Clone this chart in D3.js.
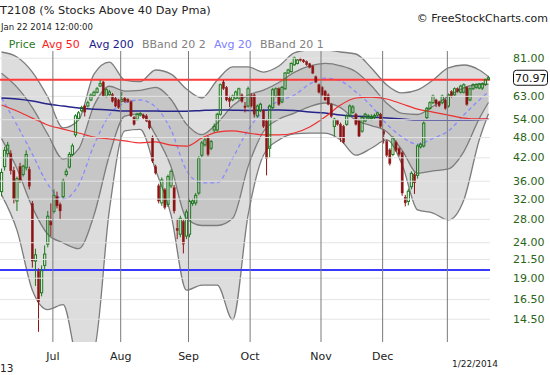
<!DOCTYPE html>
<html>
<head>
<meta charset="utf-8">
<title>T2108 (% Stocks Above 40 Day Pma)</title>
<script src="https://cdn.jsdelivr.net/npm/d3@7"></script>
<style>
    body { margin: 0; background: #fff; }
    #chart text { font-family: "DejaVu Sans", Verdana, sans-serif; }
</style>
</head>
<body>
<svg id="chart" width="550" height="375"></svg>
<script>
// daily candles, 6 Jun 2013 .. 22 Jan 2014 (one entry per trading day)
var opens = [33.5,39.5,43,43,38.5,31.5,39.5,37.5,39.2,38.8,
    31,21.2,19.8,17.2,20.6,23.7,27.5,29.4,32.4,30.8,
    32.4,37.5,39.4,42.8,48.7,54.3,57.1,58.9,58.9,61.3,
    63.1,64.5,67.2,69,62.9,63.5,63.5,62,61.3,60.8,
    62,61.5,60.6,54.6,54,55.5,55.5,55.2,53.4,48,
    39.5,34.8,31.1,33.9,30.8,34.8,34.4,26.3,25.3,27.5,
    25,25.3,31,31.1,33.2,42.6,45.6,47.7,44.6,50.3,
    50.3,55.8,69,66.6,62,61.3,62,62,63.4,58.9,
    58.9,63.4,63.4,55.2,57.1,57.1,53.4,44.6,58.3,62.9,
    66,60.5,66,73.2,73.9,77.3,78,80.5,79.8,79,
    77.8,76.6,71.4,67.8,66.6,65,63.4,59.5,51.5,53.5,
    52.2,51.5,52.2,55.2,56.5,55.8,53.4,49.9,53.4,54.4,
    54.2,54.5,55.5,55.8,49.9,46.6,44.1,42.8,46.4,44.5,
    43.3,32.3,31.4,34.6,37.5,37.3,45,45.3,54.6,58,
    60.2,61.3,60.5,60.2,61.3,58.9,64.8,63.4,66,64.5,
    64.5,66.6,61.3,66,66.6,66.3,66.3,67.8,70.3];
var highs = [39,45,46.5,44,39.5,37,40.5,40,44,39.5,
    31.5,23,20.2,20.6,23.5,29.5,31,34,33.5,31.2,
    36.5,39,43.5,46,55.8,57,59,59.5,61,64,
    65.2,66.8,69.9,69.5,66.3,65.5,64.2,62.5,61.8,64.6,
    62.5,62,61.2,55.2,56.3,56.6,56,55.8,54,48.5,
    40,35.3,36.8,34.3,37.5,38.8,35,28,28.6,28,
    29.8,32,32,33.2,42.3,46.8,47.7,48.3,47.1,52.5,
    56.3,68.3,69.9,67.2,63,63.5,65.2,66.5,64,60.5,
    67,64,64,59.5,60.2,57.6,54,59.5,66.3,66.6,
    66.6,67.2,73.7,75.3,78.5,81.6,80.3,81,80.3,79.5,
    78.3,77.2,72,68.3,67.2,65.5,64,60,54.5,54,
    52.8,52,55.8,59.5,59.3,56.3,54,55,56.3,55.8,
    55.8,56,56.8,56.3,50.5,47.2,44.6,48.3,47,45,
    43.8,32.8,34.2,38.3,38,45.8,46.3,53.2,58.6,60.8,
    63.5,61.8,61,63.5,61.8,64,65.3,66.6,66.6,67.8,
    68.4,67.2,66.6,68.4,68.4,68.6,68.8,70.5,71.8];
var lows = [32.5,38.5,42,37.5,31,29.5,35.5,37,38.5,34,
    20.3,18,13.3,16.8,20,23.2,25,29,30,27.8,
    32,37,39,42.3,48,53.8,56.6,55,58.3,60.8,
    62.5,64,66.8,62.5,62.3,63,60.3,58.5,57.8,60.3,
    60.2,60.2,54.8,51.8,53.5,55,54,53,50.5,40.5,
    37.5,31,30.5,29.8,30.3,34.3,29,24.5,24.8,22.3,
    24.5,24.8,30.5,30.6,32.8,42,45.1,42.3,44,49.5,
    49.8,55.3,65.5,60.8,58.5,60.8,61.5,61.5,60.2,56.5,
    58.3,58.3,54.6,54.6,56.6,51,37.3,42,57.8,62.3,
    59,60,65.5,72.7,73.4,76.8,77.5,79,78.3,76.8,
    75.5,72.7,68.5,64,62.8,61,59.2,54.5,48.3,51.8,
    46.5,46,51.7,54.7,56,51.8,47.8,49.4,53,53.8,
    53.6,54,55,51,46,42,39.8,42.3,43.5,42.3,
    32.6,30.4,30.6,34,33,36.5,44.5,44.8,54,57.4,
    59.6,58.5,58.5,59.6,57.5,58.3,62.3,62.9,64.3,64,
    64,59,60.8,65.5,66,65.8,65.5,67.3,69.8];
var closes = [38,44,45.5,38.5,32,36.5,36.2,39.6,42.8,34.7,
    21.2,22.1,16.2,19.9,22.2,28.5,26.9,32.7,30.5,29.5,
    35.9,38.3,42.8,45.3,55.2,56.3,58.3,56.6,60.2,63.3,
    64.5,66,68.3,62.9,65.6,64.6,60.8,58.9,58.3,61.5,
    60.7,60.7,55.2,52.2,55.8,56,54.5,53.4,51,41,
    37.9,31.5,36.2,30.2,37,38.3,29.5,25.9,28.1,23.7,
    29.3,31.4,31.5,32.7,41.7,46.2,47.1,42.8,46.6,51.5,
    55.8,67.8,66,61.3,60.7,62.9,64.6,66,60.7,58.3,
    66,58.9,55.8,58.9,59.6,51.5,41.7,58.9,65.6,66,
    59.6,66.6,73.2,74.7,78,81,79.8,79.5,78.8,77.3,
    76,73.2,69,64.5,63.3,61.3,59.6,55,54,52.2,
    47.7,46.4,55.2,58.9,58.5,52.2,48.3,54.6,55.8,55.2,
    55,55.3,56.3,51.5,48.9,42.6,40.3,47.7,44,42.8,
    33.2,31.1,33.6,37.8,35.5,45.3,45.8,52.6,58,60.2,
    62.9,59.8,59,62.9,58,63.4,62.9,66,64.8,67.2,
    67.8,59.6,66,67.8,67.8,68.1,68.3,70,70.97];

// indicator readings, taken every 5th trading day
var bandIdx = [0,5,10,15,20,25,30,35,40,45,50,55,60,65,70,75,80,85,90,95,
    100,105,110,115,120,125,130,135,140,145,150,155,158];
var bbUpper2 = [84.1,81.4,73.7,62.5,51.0,53.7,72.7,78.7,69.9,69.2,74.7,72.7,65.9,62.1,69.9,76.2,76.2,73.7,76.7,83.6,
    85.2,85.2,84.1,83.0,75.7,67.7,64.2,65.5,69.9,75.7,77.2,74.7,71.5];
var bbUpper1 = [73.1,66.7,58.3,48.9,41.5,44.4,59.1,67.1,65.0,65.3,66.6,61.5,52.3,48.8,52.7,59.0,63.3,65.4,68.8,73.5,
    76.7,78.0,76.8,73.8,67.3,60.0,56.1,55.7,58.8,62.9,66.4,68.0,68.0];
var avg20 = [62.1,52.0,42.9,35.2,31.9,35.0,45.5,55.5,60.1,61.3,58.5,50.3,38.6,35.5,35.5,41.8,50.3,57.0,60.9,63.3,
    68.1,70.8,69.5,64.6,58.9,52.3,48.0,45.8,47.6,50.0,55.5,61.3,64.6];
var bbLower1 = [47.5,39.0,30.2,25.3,23.9,23.0,28.7,42.6,55.1,55.9,48.6,39.5,28.1,26.8,26.8,28.1,39.5,49.8,54.0,56.2,
    58.7,60.1,58.3,53.6,51.8,49.7,44.0,37.8,38.4,38.9,43.6,54.2,60.3];
var bbLower2 = [32.8,26.0,17.5,15.4,15.9,11.0,11.8,29.7,50.0,50.5,38.6,28.7,17.5,18.1,18.1,14.4,28.7,42.6,47.1,49.0,
    49.3,49.3,47.1,42.6,44.6,47.1,40.0,29.7,29.1,27.8,31.7,47.1,56.0];
var avg50 = [59.3,57.0,54.4,52.0,50.6,49.3,48.0,47.4,46.8,46.2,46.5,45.5,45.2,47.7,49.6,50.0,49.3,48.7,48.7,49.3,
    51.3,54.8,59.3,62.1,62.5,61.7,59.7,57.7,56.6,55.5,54.4,54.1,54.1];
var avg200 = [62.1,61.7,60.9,59.7,58.9,58.1,57.7,57.4,57.0,57.0,57.0,56.9,56.9,57.2,57.4,57.3,57.2,57.3,57.4,57.2,
    56.6,56.3,55.5,55.1,54.8,54.4,54.1,53.7,53.7,53.7,53.7,53.8,54.0];

var levels = [70, 20];
var monthIdx = [17, 39, 61, 81, 104, 124, 145];
var monthNames = ["Jul", "Aug", "Sep", "Oct", "Nov", "Dec", ""];
var yTicks = [81, 63, 54, 48, 42, 36, 32, 28, 24, 21.5, 19, 16.5, 14.5];
var lastLabel = "70.97";

window.addEventListener("load", drawChart);

function drawChart() {
    var W = 490, TOP = 51, BOTTOM = 342;
    var n = closes.length;
    var svg = d3.select("#chart");

    var x = d3.scaleLinear().domain([0, n]).range([0, W]);
    var y = d3.scaleLog().domain([14.5, 81]).range([318.7, 57.7]);
    var cx = function (i) { return x(i + 0.5); };

    svg.append("clipPath").attr("id", "plotClip")
        .append("rect").attr("x", 0).attr("y", TOP).attr("width", W).attr("height", BOTTOM - TOP);

    var plot = svg.append("g").attr("clip-path", "url(#plotClip)");

    var rows = bandIdx.map(function (d, k) {
        return { i: d, u2: bbUpper2[k], u1: bbUpper1[k], m: avg20[k], l1: bbLower1[k], l2: bbLower2[k],
                 a50: avg50[k], a200: avg200[k] };
    });
    var curve = d3.curveMonotoneX;

    //bollinger fills
    plot.append("path").datum(rows)
        .attr("d", d3.area().x(d => cx(d.i)).y0(d => y(d.l2)).y1(d => y(d.u2)).curve(curve))
        .attr("fill", "#dddddd");
    plot.append("path").datum(rows)
        .attr("d", d3.area().x(d => cx(d.i)).y0(d => y(d.l1)).y1(d => y(d.u1)).curve(curve))
        .attr("fill", "#c6c6c6");

    //grid + right axis
    var yAxis = d3.axisRight(y).tickValues(yTicks).tickFormat(d3.format(".2f"))
        .tickSizeInner(-W).tickSizeOuter(0).tickPadding(23);
    var gy = svg.append("g").attr("transform", "translate(" + W + ",0)").call(yAxis);
    gy.select(".domain").remove();
    gy.selectAll("line").attr("stroke", "#e4e4e4");
    gy.selectAll("text").attr("fill", "#2a6418").style("font-size", "11px");

    //band outlines
    ["u2", "u1", "l1", "l2"].forEach(function (k) {
        plot.append("path").datum(rows)
            .attr("d", d3.line().x(d => cx(d.i)).y(d => y(d[k])).curve(curve))
            .attr("fill", "none").attr("stroke", "#7c7c7c").attr("stroke-width", 1.3);
    });

    //month separators
    var xAxis = d3.axisBottom(x).tickValues(monthIdx).tickFormat((d, k) => monthNames[k])
        .tickSizeInner(-(BOTTOM - TOP)).tickSizeOuter(0).tickPadding(10);
    var gx = svg.append("g").attr("transform", "translate(0," + BOTTOM + ")").call(xAxis);
    gx.select(".domain").remove();
    gx.selectAll("line").attr("stroke", "#7a7a7a");
    gx.selectAll("text").attr("fill", "#222").style("font-size", "11px");

    //moving averages
    plot.append("path").datum(rows)
        .attr("d", d3.line().x(d => cx(d.i)).y(d => y(d.m)).curve(curve))
        .attr("fill", "none").attr("stroke", "#8a8aff").attr("stroke-width", 1.3)
        .attr("stroke-dasharray", "4,3");
    plot.append("path").datum(rows)
        .attr("d", d3.line().x(d => cx(d.i)).y(d => y(d.a200)).curve(curve))
        .attr("fill", "none").attr("stroke", "#24248a").attr("stroke-width", 1.5);
    plot.append("path").datum(rows)
        .attr("d", d3.line().x(d => cx(d.i)).y(d => y(d.a50)).curve(curve))
        .attr("fill", "none").attr("stroke", "#ee3030").attr("stroke-width", 1.2);

    //70 / 20 levels
    plot.selectAll(".level").data(levels).enter().append("line")
        .attr("x1", 0).attr("x2", W)
        .attr("y1", d => y(d)).attr("y2", d => y(d))
        .attr("stroke", (d, k) => k == 0 ? "#ff3a3a" : "#3a3aff")
        .attr("stroke-width", 2);

    //candles
    var idx = d3.range(n);
    var isUp = i => closes[i] >= opens[i];
    var green = "#1d7a1d", red = "#8c1414";

    plot.selectAll(".wickHi").data(idx).enter().append("line")
        .attr("x1", cx).attr("x2", cx)
        .attr("y1", i => y(highs[i]))
        .attr("y2", i => y(Math.max(opens[i], closes[i])))
        .attr("stroke", i => isUp(i) ? green : red).attr("stroke-width", 1);
    plot.selectAll(".wickLo").data(idx).enter().append("line")
        .attr("x1", cx).attr("x2", cx)
        .attr("y1", i => y(Math.min(opens[i], closes[i])))
        .attr("y2", i => y(lows[i]))
        .attr("stroke", i => isUp(i) ? green : red).attr("stroke-width", 1);

    plot.selectAll(".body").data(idx).enter().append("rect")
        .attr("x", i => cx(i) - 1.1)
        .attr("width", 2.2)
        .attr("y", i => y(Math.max(opens[i], closes[i])))
        .attr("height", i => Math.max(1, y(Math.min(opens[i], closes[i])) - y(Math.max(opens[i], closes[i]))))
        .attr("fill", i => isUp(i) ? "none" : red)
        .attr("stroke", i => isUp(i) ? green : red)
        .attr("stroke-width", i => isUp(i) ? 1 : 0.4);

    //last value box
    var last = closes[n - 1];
    svg.append("rect").attr("x", 513.5).attr("y", y(last) - 7.5)
        .attr("width", 34).attr("height", 15).attr("rx", 3)
        .attr("fill", "#fff").attr("stroke", "#111").attr("stroke-width", 1);
    svg.append("text").attr("x", 515).attr("y", y(last) + 4)
        .style("font-size", "11px").attr("fill", "#111").text(lastLabel);

    //titles
    svg.append("text").attr("x", 0).attr("y", 13.5).style("font-size", "11.3px").attr("fill", "#222")
        .text("T2108 (% Stocks Above 40 Day Pma)");
    svg.append("text").attr("x", 1).attr("y", 30).style("font-size", "8.5px").attr("fill", "#222")
        .text("Jan 22 2014 12:00:00");
    svg.append("text").attr("x", 548).attr("y", 21.5).attr("text-anchor", "end")
        .style("font-size", "11px").attr("fill", "#222").text("\u00a9 FreeStockCharts.com");

    //legend
    var legend = [
        { t: "Price", c: "#2a7a1e", x: 8.8 },
        { t: "Avg 50", c: "#ff2020", x: 42 },
        { t: "Avg 200", c: "#1a1a8c", x: 89 },
        { t: "BBand 20 2", c: "#808080", x: 142 },
        { t: "Avg 20", c: "#8080ff", x: 214 },
        { t: "BBand 20 1", c: "#808080", x: 260 }
    ];
    svg.selectAll(".legend").data(legend).enter().append("text")
        .attr("x", d => d.x).attr("y", 48)
        .style("font-size", "11px").attr("fill", d => d.c)
        .text(d => d.t);

    //bottom labels
    svg.append("text").attr("x", 475).attr("y", 367).attr("text-anchor", "middle")
        .style("font-size", "9px").attr("fill", "#222").text("1/22/2014");
    svg.append("text").attr("x", 0).attr("y", 371.5).style("font-size", "10.5px").attr("fill", "#222").text("13");
}
</script>
</body>
</html>
